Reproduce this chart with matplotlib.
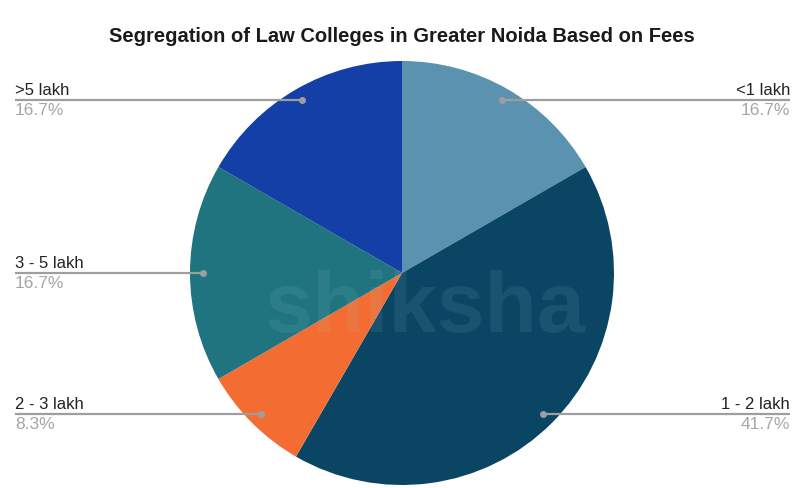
import numpy as np
import matplotlib.pyplot as plt

# Fee segregation data
categories = ["<1 lakh", "1 - 2 lakh", "2 - 3 lakh", "3 - 5 lakh", ">5 lakh"]
counts = [2, 5, 1, 2, 2]
pct_labels = ["16.7%", "41.7%", "8.3%", "16.7%", "16.7%"]
colors = ["#5a92b0", "#0b4564", "#f36d32", "#1f7480", "#143fa6"]

W, H = 804, 489
fig = plt.figure(figsize=(W / 100, H / 100), dpi=100)
ax = fig.add_axes([0, 0, 1, 1])

cx, cy, r = 402, H - 274, 212
wedges, _ = ax.pie(counts, colors=colors, startangle=90, counterclock=False,
                   center=(cx, cy), radius=r, frame=True,
                   wedgeprops=dict(linewidth=0))
ax.set_xlim(0, W)
ax.set_ylim(0, H)
ax.set_aspect("auto")
ax.axis("off")

# faint watermark
ax.text(425, H - 310, "shiksha", fontsize=62, fontweight="bold",
        color="#9fd3d6", alpha=0.1, ha="center", va="center",
        family="Liberation Sans", zorder=5)

for w, name, pct in zip(wedges, categories, pct_labels):
    mid = np.deg2rad((w.theta1 + w.theta2) / 2)
    dx = cx + 0.94 * r * np.cos(mid)
    dy = cy + 0.94 * r * np.sin(mid)
    if np.cos(mid) >= 0:
        x_end, ha = 790, "right"
    else:
        x_end, ha = 15, "left"
    ax.plot([dx, x_end], [dy, dy], color="#9e9e9e", lw=1.6, zorder=6,
            solid_capstyle="butt")
    ax.plot(dx, dy, "o", color="#9e9e9e", ms=4, zorder=7)
    ax.text(x_end, dy + 3, name, ha=ha, va="bottom", fontsize=12,
            color="#222222", family="Liberation Sans", zorder=7)
    ax.text(x_end, dy - 2, pct, ha=ha, va="top", fontsize=12.5,
            color="#a6a6a6", family="Liberation Sans", zorder=7)

fig.text(402 / W, 1 - 37 / H, "Segregation of Law Colleges in Greater Noida Based on Fees",
         ha="center", va="center", fontsize=14.5, fontweight="bold",
         color="#1a1a1a", family="Liberation Sans")

fig.savefig("out.png", dpi=100, facecolor="white")
